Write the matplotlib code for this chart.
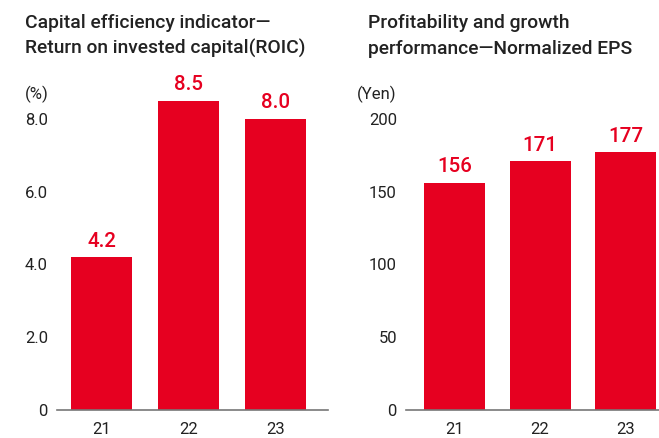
import matplotlib.pyplot as plt

plt.rcParams['font.family'] = ['Roboto', 'DejaVu Sans']

years = ["21", "22", "23"]
roic = [4.2, 8.5, 8.0]
eps = [156, 171, 177]

roic_ticks = [0, 2, 4, 6, 8]
roic_tick_labels = ["0", "2.0", "4.0", "6.0", "8.0"]
eps_ticks = [0, 50, 100, 150, 200]
eps_tick_labels = ["0", "50", "100", "150", "200"]

red = "#E60020"
text_col = "#222222"

fig = plt.figure(figsize=(6.59, 4.38), dpi=100)

W, H = 659, 438


def make_axes(x0, x1):
    bottom = 1 - 410 / H
    top = 1 - 82.6 / H
    return fig.add_axes([x0 / W, bottom, (x1 - x0) / W, top - bottom])


def draw_panel(ax, values, ticks, tick_labels, ymax, xlim, width, fmt):
    x = range(len(values))
    ax.bar(x, values, width=width, color=red)
    for i, v in zip(x, values):
        ax.text(i, v + ymax * 0.02, fmt.format(v), ha="center", va="bottom",
                color=red, fontsize=14.8, fontweight="medium")
    ax.set_ylim(0, ymax)
    ax.set_xlim(*xlim)
    ax.set_yticks(ticks)
    ax.set_yticklabels(tick_labels)
    ax.set_xticks(list(x))
    ax.set_xticklabels(years)
    for s in ["top", "right", "left"]:
        ax.spines[s].set_visible(False)
    ax.spines["bottom"].set_color("#777777")
    ax.spines["bottom"].set_linewidth(1.2)
    ax.tick_params(axis="both", length=0, labelsize=12, colors=text_col)
    ax.tick_params(axis="y", pad=6.5)
    ax.tick_params(axis="x", pad=9)


ax1 = make_axes(57, 328)
draw_panel(ax1, roic, roic_ticks, roic_tick_labels, 9, (-0.511, 2.603), 0.70, "{:.1f}")

ax2 = make_axes(406, 659)
draw_panel(ax2, eps, eps_ticks, eps_tick_labels, 225, (-0.567, 2.39), 0.713, "{:.0f}")

titles = [
    (25, ["Capital efficiency indicator\u2014", "Return on invested capital(ROIC)"]),
    (368, ["Profitability and growth", "performance\u2014Normalized EPS"]),
]
for x0, lines in titles:
    for k, line in enumerate(lines):
        fig.text(x0 / W, 1 - (28.5 + 25.5 * k) / H, line, ha="left", va="baseline",
                 fontsize=13.9, fontweight="medium", color=text_col)

fig.text(25 / W, 1 - 94 / H, "(%)", ha="left", va="center", fontsize=12, color=text_col)
fig.text(357 / W, 1 - 94 / H, "(Yen)", ha="left", va="center", fontsize=12, color=text_col)

fig.savefig("out.png", dpi=100)
